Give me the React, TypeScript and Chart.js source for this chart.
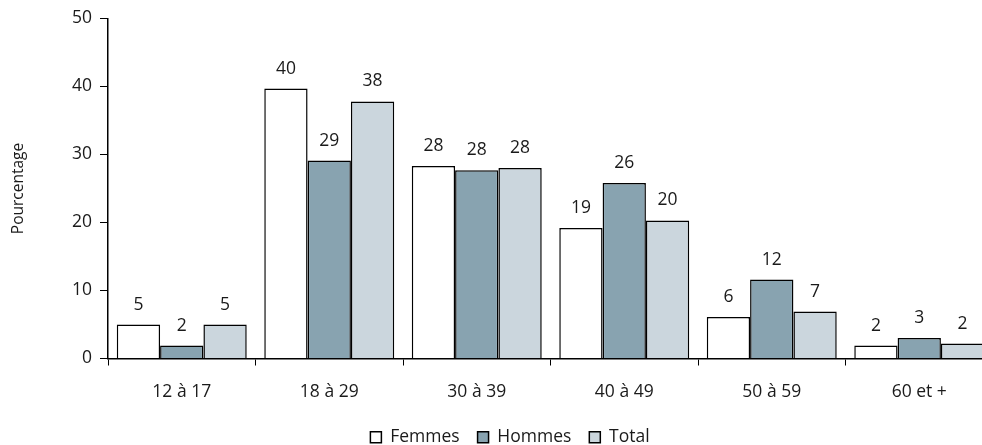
import { useEffect, useRef } from 'react';
import { Chart, registerables } from 'chart.js';

Chart.register(...registerables);

const categories = ['12 à 17', '18 à 29', '30 à 39', '40 à 49', '50 à 59', '60 et +'];
const seriesNames = ['Femmes', 'Hommes', 'Total'];
const femmes = [5.0, 39.7, 28.3, 19.2, 6.1, 1.9];
const hommes = [1.9, 29.1, 27.7, 25.8, 11.6, 3.0];
const total = [5.0, 37.8, 28.0, 20.3, 6.9, 2.2];
const yTicks = [0, 10, 20, 30, 40, 50];
const yTitle = 'Pourcentage';

const seriesColors = ['#ffffff', '#88a3b0', '#cbd6dd'];
const TEXT = '#1a1a1a';
const FONT = '"Open Sans", "Noto Sans", sans-serif';
const W = 1015;
const H = 456;

const valueLabels = {
  id: 'valueLabels',
  afterDatasetsDraw(chart: any) {
    const ctx = chart.ctx;
    ctx.save();
    ctx.font = `17.5px ${FONT}`;
    ctx.fillStyle = TEXT;
    ctx.textAlign = 'center';
    ctx.textBaseline = 'alphabetic';
    chart.data.datasets.forEach((ds: any, i: number) => {
      const meta = chart.getDatasetMeta(i);
      meta.data.forEach((el: any, j: number) => {
        ctx.fillText(String(Math.round(ds.data[j])), el.x, el.y - 15);
      });
    });
    ctx.restore();
  },
};

export default function App() {
  const ref = useRef<HTMLCanvasElement | null>(null);

  useEffect(() => {
    document.body.style.overflow = 'hidden';
    Chart.defaults.font.family = FONT;
    const values = [femmes, hommes, total];
    const chart = new Chart(ref.current as HTMLCanvasElement, {
      type: 'bar',
      data: {
        labels: categories,
        datasets: seriesNames.map((name, i) => ({
          label: name,
          data: values[i],
          backgroundColor: seriesColors[i],
          borderColor: '#000000',
          borderWidth: 1.5,
          categoryPercentage: 0.881,
          barPercentage: 1.0,
          yAxisID: 'y',
        })),
      },
      options: {
        responsive: false,
        animation: false,
        devicePixelRatio: 1,
        layout: { padding: { top: 18, left: 5, right: 0, bottom: 0 } },
        plugins: {
          tooltip: { enabled: false },
          legend: {
            position: 'bottom',
            align: 'center',
            labels: {
              color: TEXT,
              font: { size: 17.5, family: FONT },
              boxWidth: 11,
              boxHeight: 11,
              padding: 18,
            },
          },
        },
        scales: {
          x: {
            grid: { drawOnChartArea: false, drawTicks: true, tickLength: 7, color: '#000000', offset: true },
            border: { color: '#000000', width: 1.5 },
            ticks: { color: TEXT, padding: 16, font: { size: 17.5 } },
            afterFit: (s: any) => { s.height = 52; },
          },
          y: {
            min: yTicks[0],
            max: yTicks[yTicks.length - 1],
            ticks: { stepSize: yTicks[1] - yTicks[0], padding: 8, color: TEXT, font: { size: 17.5 } },
            grid: { drawOnChartArea: false, tickLength: 8, color: '#000000' },
            border: { color: '#000000', width: 1.5 },
            title: { display: true, text: yTitle, color: TEXT, font: { size: 15.5 }, padding: { top: 4, bottom: 4 } },
            afterFit: (s: any) => { s.width = 103; },
          },
          y2: {
            position: 'right',
            display: true,
            grid: { display: false },
            border: { display: false },
            ticks: { display: false },
            afterFit: (s: any) => { s.width = 22; },
          },
        },
      },
      plugins: [valueLabels],
    } as any);
    return () => chart.destroy();
  }, []);

  return (
    <div style={{ position: 'fixed', left: 0, top: 0, width: W, height: H }}>
      <canvas ref={ref} width={W} height={H} style={{ width: W, height: H, display: 'block' }} />
    </div>
  );
}
